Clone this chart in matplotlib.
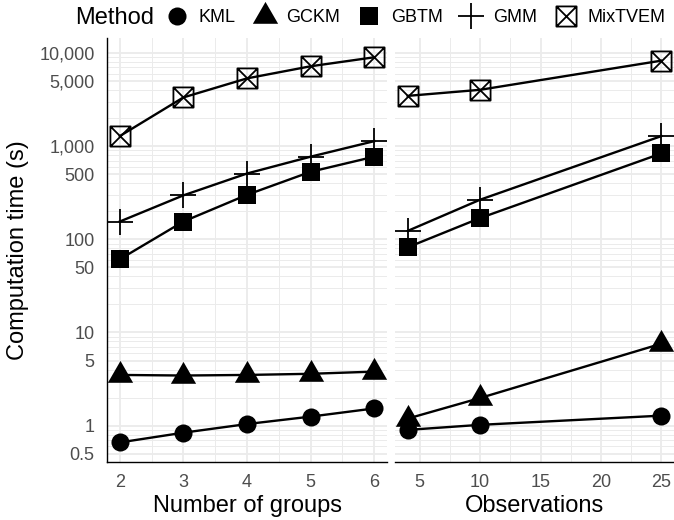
import matplotlib
matplotlib.use("Agg")
import matplotlib.pyplot as plt
import numpy as np
from matplotlib.lines import Line2D
from matplotlib.path import Path
from matplotlib.ticker import FixedLocator, FuncFormatter

plt.rcParams["font.family"] = ["Liberation Sans", "DejaVu Sans"]

# Computation time (s) by number of groups
groups = [2, 3, 4, 5, 6]
kml_groups = [0.66, 0.84, 1.04, 1.25, 1.53]
gckm_groups = [3.5, 3.45, 3.5, 3.6, 3.8]
gbtm_groups = [61, 155, 300, 530, 770]
gmm_groups = [155, 296, 508, 770, 1130]
mixtvem_groups = [1280, 3330, 5330, 7190, 8980]

# Computation time (s) by number of observations
observations = [4, 10, 25]
kml_obs = [0.90, 1.02, 1.28]
gckm_obs = [1.19, 1.98, 7.57]
gbtm_obs = [82, 169, 834]
gmm_obs = [123, 266, 1280]
mixtvem_obs = [3460, 4020, 8260]

methods = ["KML", "GCKM", "GBTM", "GMM", "MixTVEM"]
y_breaks = [0.5, 1, 5, 10, 50, 100, 500, 1000, 5000, 10000]
x_breaks_groups = [2, 3, 4, 5, 6]
x_breaks_obs = [5, 10, 15, 20, 25]

# square with an X through it
M, L, C = Path.MOVETO, Path.LINETO, Path.CLOSEPOLY
crossbox = Path(
    [(-1, -1), (1, -1), (1, 1), (-1, 1), (-1, -1), (-1, -1), (1, 1), (-1, 1), (1, -1)],
    [M, L, L, L, C, M, L, M, L],
)

styles = {
    "KML": dict(marker="o", ms=13, mfc="black", mew=0),
    "GCKM": dict(marker=(3, 0, 0), ms=21, mfc="black", mew=0),
    "GBTM": dict(marker="s", ms=13.5, mfc="black", mew=0),
    "GMM": dict(marker="+", ms=19, mew=1.3),
    "MixTVEM": dict(marker=crossbox, ms=14.5, mfc="none", mew=1.3),
}

series_groups = dict(zip(methods, [kml_groups, gckm_groups, gbtm_groups, gmm_groups, mixtvem_groups]))
series_obs = dict(zip(methods, [kml_obs, gckm_obs, gbtm_obs, gmm_obs, mixtvem_obs]))

fig = plt.figure(figsize=(6.74, 5.2), dpi=100)
ax1 = fig.add_axes([0.1588, 0.1121, 0.5742 - 0.1588, 0.9269 - 0.1121])
ax2 = fig.add_axes([0.5861, 0.1121, 1.0 - 0.5861, 0.9269 - 0.1121], sharey=ax1)

for m in methods:
    ax1.plot(groups, series_groups[m], color="black", lw=1.7, mec="black", **styles[m])
    ax2.plot(observations, series_obs[m], color="black", lw=1.7, mec="black", **styles[m])

# log y with 5% expansion, shared by both panels
all_vals = np.concatenate([np.ravel(v) for v in list(series_groups.values()) + list(series_obs.values())])
lo, hi = np.log10(all_vals.min()), np.log10(all_vals.max())
pad = 0.05 * (hi - lo)
ax1.set_yscale("log")
ax1.set_ylim(10 ** (lo - pad), 10 ** (hi + pad))


def expand(vals):
    span = max(vals) - min(vals)
    return min(vals) - 0.05 * span, max(vals) + 0.05 * span


ax1.set_xlim(*expand(groups))
ax2.set_xlim(*expand(observations))

minor_y = [k * 10.0 ** e for e in range(-1, 5) for k in range(1, 10)]
minor_y = [v for v in minor_y if v not in y_breaks]

fmt = FuncFormatter(lambda v, _: f"{v:,.0f}" if v >= 1 else f"{v:g}")

for ax, xb in [(ax1, x_breaks_groups), (ax2, x_breaks_obs)]:
    ax.yaxis.set_major_locator(FixedLocator(y_breaks))
    ax.yaxis.set_minor_locator(FixedLocator(minor_y))
    ax.xaxis.set_major_locator(FixedLocator(xb))
    step = xb[1] - xb[0]
    ax.xaxis.set_minor_locator(FixedLocator([b + step / 2 for b in [xb[0] - step] + xb]))
    ax.grid(True, which="major", color="#EBEBEB", lw=1.3)
    ax.grid(True, which="minor", color="#EBEBEB", lw=0.7)
    ax.set_axisbelow(True)
    ax.tick_params(which="both", length=0, labelsize=13, labelcolor="#4D4D4D")
    ax.tick_params(axis="x", pad=9)
    ax.tick_params(axis="y", pad=9)
    for side in ["top", "right"]:
        ax.spines[side].set_visible(False)
    ax.spines["bottom"].set_color("black")
    ax.spines["bottom"].set_linewidth(1.0)

ax1.yaxis.set_major_formatter(fmt)
ax1.yaxis.set_minor_formatter(FuncFormatter(lambda v, _: ""))
ax1.spines["left"].set_color("black")
ax1.spines["left"].set_linewidth(1.0)
ax2.spines["left"].set_visible(False)
ax2.tick_params(axis="y", which="both", labelleft=False)

ax1.set_xlabel("Number of groups", fontsize=17, labelpad=3)
ax2.set_xlabel("Observations", fontsize=17, labelpad=3)
ax1.set_ylabel("Computation time (s)", fontsize=17, labelpad=7)

# legend across the top
handles = [
    Line2D([], [], linestyle="none", color="black", mec="black", **styles[m]) for m in methods
]
fig.text(75 / 674, 1 - 18 / 520, "Method", fontsize=17, va="center", ha="left")
fig.legend(
    handles, methods, loc="center left", bbox_to_anchor=(168 / 674, 1 - 18 / 520),
    ncol=5, frameon=False, fontsize=13, handlelength=1.0, handletextpad=0.7,
    columnspacing=1.1, borderpad=0, borderaxespad=0,
)

fig.savefig("out.png", dpi=100)
